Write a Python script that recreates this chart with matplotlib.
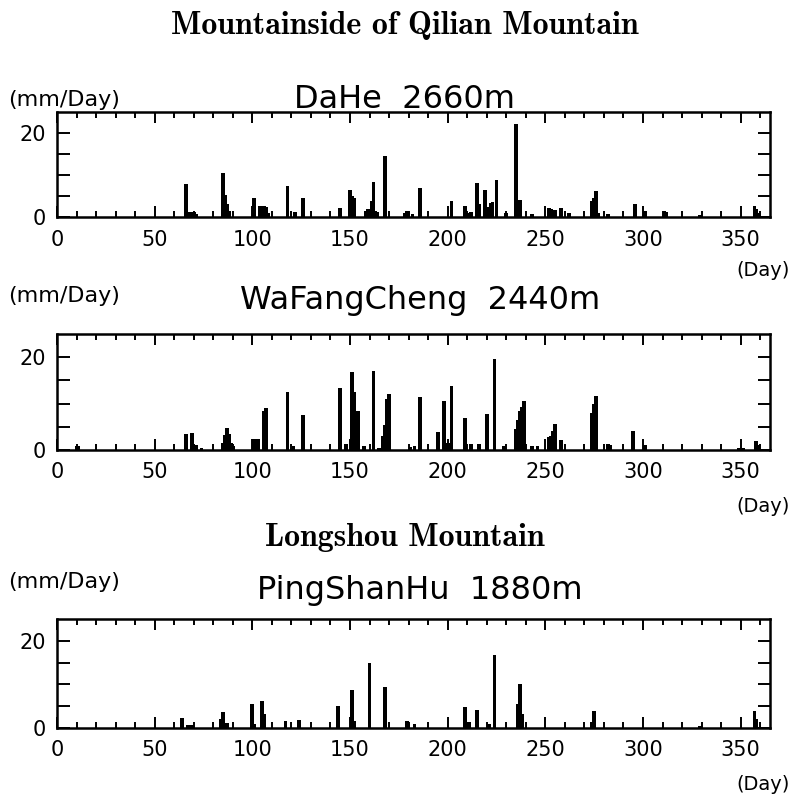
import numpy as np
import matplotlib
matplotlib.use("Agg")
import matplotlib.pyplot as plt
from matplotlib.ticker import MultipleLocator, FixedLocator

# daily precipitation (mm/day), only the rainy days are listed
dahe_days = [66, 67, 68, 69, 70, 71, 85, 86, 87, 88, 101, 104, 105, 106, 107, 108,
             118, 122, 126, 145, 150, 151, 152, 158, 159, 160, 161, 162, 163, 164,
             168, 178, 179, 180, 182, 186, 202, 209, 211, 212, 215, 216, 219, 221,
             222, 223, 225, 230, 235, 237, 243, 252, 253, 254, 255, 258, 262, 274,
             275, 276, 277, 282, 296, 301, 311, 312, 329, 357, 358, 359]
dahe_rain = [7.9, 1.0, 1.3, 1.3, 1.2, 0.8, 10.4, 5.3, 3.2, 1.5, 4.6, 2.6, 2.7, 2.6, 2.5, 1.0,
             7.3, 1.2, 4.6, 2.2, 6.5, 5.0, 4.6, 1.5, 1.8, 2.0, 3.9, 8.4, 1.5, 1.2,
             14.5, 1.0, 1.5, 1.2, 0.8, 7.0, 3.7, 2.7, 1.0, 1.2, 8.1, 3.0, 6.4, 2.5,
             3.3, 3.5, 8.8, 1.0, 22.1, 4.1, 0.6, 2.2, 1.8, 1.6, 1.7, 2.2, 1.0, 3.7,
             4.5, 6.2, 1.0, 0.7, 3.1, 1.5, 1.4, 1.2, 0.5, 2.7, 1.8, 1.0]

wafang_days = [10, 11, 66, 69, 71, 74, 85, 86, 87, 88, 89, 90, 101, 102, 103, 106, 107,
               118, 121, 126, 145, 148, 151, 152, 154, 157, 162, 165, 167, 168, 169,
               170, 181, 183, 186, 195, 198, 199, 200, 202, 209, 212, 216, 220, 224,
               229, 235, 236, 237, 238, 239, 243, 246, 252, 253, 254, 255, 258, 274,
               275, 276, 282, 283, 295, 301, 349, 351, 358, 359]
wafang_rain = [0.9, 0.9, 3.5, 3.7, 1.0, 0.4, 1.5, 3.2, 4.7, 3.5, 1.5, 0.8, 2.4, 2.4, 2.3, 8.5, 9.0,
               12.5, 0.8, 7.6, 13.3, 1.2, 16.9, 12.6, 8.3, 0.8, 17.1, 0.5, 3.0, 5.4, 11.0,
               12.0, 0.6, 0.9, 11.5, 3.8, 10.6, 1.6, 1.6, 13.9, 6.9, 1.4, 1.2, 7.8, 19.7,
               0.9, 4.5, 6.5, 8.3, 9.3, 10.6, 0.9, 0.9, 2.8, 3.1, 4.0, 5.6, 2.1, 8.0,
               10.0, 11.7, 1.2, 1.0, 4.2, 1.0, 0.4, 0.4, 2.0, 1.0]

pingshan_days = [64, 67, 69, 84, 85, 86, 87, 100, 101, 105, 106, 117, 124, 144, 151, 152,
                 160, 168, 179, 180, 183, 209, 211, 215, 221, 224, 236, 237, 238, 274,
                 275, 329, 357, 358]
pingshan_rain = [2.3, 0.8, 0.6, 2.1, 3.7, 1.2, 1.2, 5.4, 1.0, 6.2, 3.1, 1.5, 1.9, 5.0, 8.8, 1.5,
                 15.0, 9.5, 1.5, 1.0, 0.9, 4.8, 1.3, 4.2, 1.0, 16.8, 5.4, 10.2, 3.1, 1.3,
                 3.8, 0.5, 4.0, 2.1]

stations = ["DaHe  2660m", "WaFangCheng  2440m", "PingShanHu  1880m"]
groups = ["Mountainside of Qilian Mountain", "Longshou Mountain"]

W = 794


def fx(x):
    return x / W


def fy(y):
    return 1 - y / W


def rain_panel(fig, rect, days, rain):
    ax = fig.add_axes(rect)
    ax.bar(days, rain, width=1.9, color="black", linewidth=0)
    ax.set_xlim(0, 365)
    ax.set_ylim(0, 25)
    ax.xaxis.set_major_locator(MultipleLocator(50))
    ax.xaxis.set_minor_locator(MultipleLocator(10))
    ax.yaxis.set_major_locator(FixedLocator([0, 20]))
    ax.yaxis.set_minor_locator(FixedLocator([5, 10, 15]))
    ax.tick_params(which="both", direction="in", top=True, right=True,
                   labelsize=15, width=1.4)
    ax.tick_params(axis="x", which="major", length=8, pad=9)
    ax.tick_params(axis="x", which="minor", length=4)
    ax.tick_params(axis="y", which="both", length=9, pad=8)
    for s in ax.spines.values():
        s.set_linewidth(1.8)
    return ax


def main():
    fig = plt.figure(figsize=(7.94, 7.94), dpi=100)

    rects = [
        [fx(57), fy(217), fx(713), 105 / W],
        [fx(57), fy(450), fx(713), 116 / W],
        [fx(57), fy(728), fx(713), 109 / W],
    ]
    data = [(dahe_days, dahe_rain), (wafang_days, wafang_rain),
            (pingshan_days, pingshan_rain)]
    for rect, (d, r) in zip(rects, data):
        rain_panel(fig, rect, d, r)

    # group headings
    fig.text(fx(405), fy(25), groups[0], family="cmb10", fontsize=23,
             ha="center", va="center")
    fig.text(fx(405), fy(538), groups[1], family="cmb10", fontsize=23,
             ha="center", va="center")

    # station names and units
    name_y = [100, 300, 590]
    name_x = [405, 420, 420]
    unit_y = [100, 296, 582]
    day_y = [270, 506, 785]
    for i in range(3):
        fig.text(fx(name_x[i]), fy(name_y[i]), stations[i], fontsize=23,
                 ha="center", va="center")
        fig.text(fx(8), fy(unit_y[i]), "(mm/Day)", fontsize=16,
                 ha="left", va="center")
        fig.text(fx(763), fy(day_y[i]), "(Day)", fontsize=14,
                 ha="center", va="center")

    fig.savefig("out.png", dpi=100)


if __name__ == "__main__":
    main()
